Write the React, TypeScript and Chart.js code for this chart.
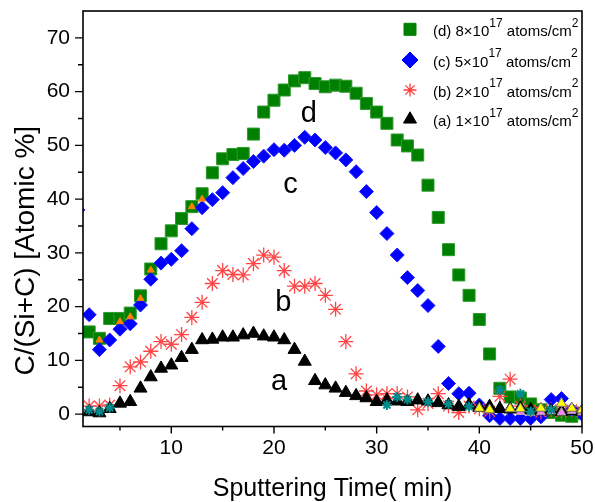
import { useEffect, useRef } from 'react';
import { Chart, registerables } from 'chart.js';

Chart.register(...registerables);

// ---------- data ----------
const times = [2, 3, 4, 5, 6, 7, 8, 9, 10, 11, 12, 13, 14, 15, 16, 17, 18, 19, 20, 21, 22, 23, 24, 25, 26,
  27, 28, 29, 30, 31, 32, 33, 34, 35, 36, 37, 38, 39, 40, 41, 42, 43, 44, 45, 46, 47, 48, 49, 50];

const seriesD = [15.3, 14.1, 17.8, 17.8, 18.8, 22.0, 27.0, 31.7, 34.1, 36.4, 38.6, 41.0, 44.9, 47.5, 48.3, 48.5,
  52.1, 56.2, 58.4, 60.3, 62.0, 62.6, 61.5, 60.9, 61.2, 61.0, 59.7, 57.8, 56.2, 54.1, 51.0, 49.9, 48.2, 42.6,
  36.6, 30.6, 25.9, 22.1, 17.6, 11.2, 4.8, 3.2, 3.0, 1.9, 0.8, 0.3, -0.2, -0.4, 0.2];

const seriesC = [18.5, 12.0, 13.8, 15.8, 16.8, 20.3, 25.1, 28.1, 28.8, 30.4, 34.5, 38.4, 39.9, 41.2, 44.0, 45.7,
  47.0, 48.0, 49.2, 49.1, 50.0, 51.5, 51.0, 49.6, 48.6, 47.3, 45.1, 41.4, 37.5, 33.6, 29.6, 25.4, 23.0, 20.2,
  12.6, 5.7, 3.8, 3.9, 1.7, -0.3, -0.8, -0.8, -0.8, -0.8, -0.5, 2.7, 2.9, 0.8, 0.0];

const seriesB = [1.5, 1.5, 1.7, 5.3, 8.8, 9.7, 11.7, 13.5, 13.0, 14.8, 18.0, 20.8, 24.3, 26.7, 26.0, 25.9, 28.0,
  29.6, 29.2, 26.7, 23.8, 23.8, 24.3, 22.1, 19.5, 13.5, 7.5, 4.3, 3.6, 3.8, 3.8, 3.2, 0.8, 2.0, 3.8, 1.5, 0.3,
  1.5, 1.0, 0.5, 3.3, 6.5, 1.5, 0.8, 0.4, 0.8, 0.5, 0.8, 0.5];

const seriesA = [0.4, 0.2, 1.0, 2.0, 2.3, 4.8, 6.9, 8.5, 9.1, 10.5, 12.0, 13.8, 13.9, 14.3, 14.3, 14.7, 15.0,
  14.5, 14.3, 13.8, 12.0, 9.8, 6.2, 5.4, 4.8, 4.0, 3.4, 3.0, 2.3, 2.6, 2.4, 2.3, 2.6, 2.4, 2.1, 1.7, 1.4, 1.7,
  1.2, 1.4, 1.0, 0.9, 1.1, 0.8, 0.6, 0.6, 0.5, 0.6, 0.5];

// clipped blue point at the left edge
const edgeCTimes = [0.9];
const edgeCValues = [38.0];

// small overlapping markers from other runs
const tealTimes = [2, 3, 4, 31, 32, 33, 35, 37, 39, 42, 44, 45, 47];
const tealValues = [0.8, 0.5, 1.2, 1.7, 3.2, 2.7, 2.3, 1.9, 1.4, 4.5, 3.8, 0.5, 0.8];
const yellowTimes = [40, 41, 43, 44, 46, 48, 49, 50];
const yellowValues = [1.1, 0.8, 1.0, 1.0, 1.1, 2.0, 1.1, 0.8];
const orangeTimes = [3, 5, 6, 7, 8, 12, 13];
const orangeValues = [13.8, 17.2, 18.1, 21.5, 26.8, 38.6, 40.0];
const pinkTimes = [44, 45, 46, 47, 48, 49, 50];
const pinkValues = [0.4, 0.2, 0.4, 0.5, 0.3, 0.6, 0.3];

const xTickValues = [10, 20, 30, 40, 50];
const xMarkValues = [5, 10, 15, 20, 25, 30, 35, 40, 45, 50];
const yTickValues = [0, 10, 20, 30, 40, 50, 60, 70];
const yMarkValues = [0, 5, 10, 15, 20, 25, 30, 35, 40, 45, 50, 55, 60, 65, 70];

const legendLabels = ['(d) 8×10', '(c) 5×10', '(b) 2×10', '(a) 1×10'];
const legendExponent = '17';
const legendUnit = ' atoms/cm';
const legendUnitExponent = '2';

const curveLetters = ['d', 'c', 'b', 'a'];
const letterX = [23.4, 21.6, 20.9, 20.5];
const letterY = [54.3, 41.1, 19.2, 4.5];

const xTitle = 'Sputtering Time( min)';
const yTitle = 'C/(Si+C) [Atomic %]';
const yTitleCenterValue = 30.4;

const FONT = "'Liberation Sans', Arial, sans-serif";

const pts = (xs: number[], ys: number[]) => xs.map((x, i) => ({ x, y: ys[i] }));

type Style = 'rect' | 'rectRot' | 'star' | 'triangle';
function drawMarker(ctx: CanvasRenderingContext2D, style: Style, x: number, y: number, r: number, fill: string, stroke: string, lw: number) {
  ctx.beginPath();
  if (style === 'rect') {
    const s = r;
    ctx.rect(x - s, y - s, 2 * s, 2 * s);
  } else if (style === 'rectRot') {
    ctx.moveTo(x - r, y); ctx.lineTo(x, y - r); ctx.lineTo(x + r, y); ctx.lineTo(x, y + r); ctx.closePath();
  } else if (style === 'triangle') {
    const w = r * Math.sin(Math.PI / 3);
    ctx.moveTo(x, y - r); ctx.lineTo(x + w, y + r / 2); ctx.lineTo(x - w, y + r / 2); ctx.closePath();
  } else {
    for (let k = 0; k < 4; k++) {
      const a = (k * Math.PI) / 4;
      ctx.moveTo(x - Math.cos(a) * r, y - Math.sin(a) * r);
      ctx.lineTo(x + Math.cos(a) * r, y + Math.sin(a) * r);
    }
  }
  if (style !== 'star') { ctx.fillStyle = fill; ctx.fill(); }
  ctx.strokeStyle = stroke; ctx.lineWidth = lw; ctx.stroke();
}

const legendStyles: { style: Style; fill: string; stroke: string; r: number }[] = [
  { style: 'rect', fill: '#008000', stroke: '#008000', r: 6 },
  { style: 'rectRot', fill: '#0000ff', stroke: '#0000ff', r: 8 },
  { style: 'star', fill: '#ff3b3b', stroke: '#ff3b3b', r: 6.5 },
  { style: 'triangle', fill: '#000', stroke: '#000', r: 7.5 },
];

const decorPlugin = {
  id: 'decor',
  afterDraw(chart: any) {
    const { ctx, chartArea: a, scales } = chart;
    const xs = scales.x, ys = scales.y;
    ctx.save();
    // frame
    ctx.strokeStyle = '#000';
    ctx.lineWidth = 1.6;
    ctx.strokeRect(a.left, a.top, a.right - a.left, a.bottom - a.top);
    // tick marks
    ctx.beginPath();
    ctx.lineWidth = 1.4;
    xMarkValues.forEach((v) => {
      const px = xs.getPixelForValue(v);
      const len = v % 10 === 0 ? 7 : 4;
      ctx.moveTo(px, a.bottom); ctx.lineTo(px, a.bottom + len);
    });
    yMarkValues.forEach((v) => {
      const py = ys.getPixelForValue(v);
      const len = v % 10 === 0 ? 8 : 5;
      ctx.moveTo(a.left, py); ctx.lineTo(a.left - len, py);
    });
    ctx.stroke();

    // y axis title (Origin-style, sits below the axis centre)
    ctx.save();
    ctx.translate(34, ys.getPixelForValue(yTitleCenterValue));
    ctx.rotate(-Math.PI / 2);
    ctx.font = `28px ${FONT}`;
    ctx.fillStyle = '#000';
    ctx.textAlign = 'center';
    ctx.textBaseline = 'alphabetic';
    ctx.fillText(yTitle, 0, 0);
    ctx.restore();

    // legend
    const rowsY = [18.3, 49, 79, 108.3];
    const mx = a.right - 172;
    const tx = a.right - 149;
    legendLabels.forEach((lab, i) => {
      const y = a.top + rowsY[i];
      const st = legendStyles[i];
      drawMarker(ctx, st.style, mx, y, st.r, st.fill, st.stroke, st.style === 'star' ? 1.3 : 1);
      const base = y + 6.7;
      ctx.fillStyle = '#000';
      ctx.textAlign = 'left';
      ctx.textBaseline = 'alphabetic';
      let cx = tx;
      ctx.font = `15px ${FONT}`;
      ctx.fillText(lab, cx, base); cx += ctx.measureText(lab).width;
      ctx.font = `12px ${FONT}`;
      ctx.fillText(legendExponent, cx, base - 9.3); cx += ctx.measureText(legendExponent).width;
      ctx.font = `15px ${FONT}`;
      ctx.fillText(legendUnit, cx, base); cx += ctx.measureText(legendUnit).width;
      ctx.font = `12px ${FONT}`;
      ctx.fillText(legendUnitExponent, cx, base - 9.3);
    });

    // curve letters
    ctx.font = `29px ${FONT}`;
    ctx.textAlign = 'center';
    ctx.textBaseline = 'alphabetic';
    ctx.fillStyle = '#000';
    curveLetters.forEach((t, i) => {
      ctx.fillText(t, xs.getPixelForValue(letterX[i]), ys.getPixelForValue(letterY[i]));
    });
    ctx.restore();
  },
};

export default function App() {
  const ref = useRef<HTMLCanvasElement | null>(null);
  useEffect(() => {
    if (!ref.current) return;
    Chart.defaults.font.family = FONT;
    const common = { showLine: false, clip: 0, borderWidth: 1 };
    const chart = new Chart(ref.current, {
      type: 'scatter',
      data: {
        datasets: [
          { ...common, label: 'teal', data: pts(tealTimes, tealValues), pointStyle: 'star', pointRadius: 5, borderColor: '#008b8b', borderWidth: 2, backgroundColor: '#00c0c0', order: 0 },
          { ...common, label: 'yellow', data: pts(yellowTimes, yellowValues), pointStyle: 'triangle', pointRadius: 6, backgroundColor: '#ffff00', borderColor: '#707070', order: 1 },
          { ...common, label: 'pink', data: pts(pinkTimes, pinkValues), pointStyle: 'triangle', pointRadius: 5, backgroundColor: '#ff80ff', borderColor: '#a0a0a0', order: 1.5 },
          { ...common, label: 'orange', data: pts(orangeTimes, orangeValues), pointStyle: 'triangle', pointRadius: 4, backgroundColor: '#ff8000', borderColor: '#ff8000', order: 2 },
          { ...common, label: '(a)', data: pts(times, seriesA), pointStyle: 'triangle', pointRadius: 7.5, backgroundColor: '#000', borderColor: '#000', order: 3 },
          { ...common, label: '(b)', data: pts(times, seriesB), pointStyle: 'star', pointRadius: 7.5, borderColor: '#ff4545', backgroundColor: '#ff4545', borderWidth: 1.3, order: 4 },
          { ...common, label: '(c)', data: pts(times, seriesC).concat(pts(edgeCTimes, edgeCValues)), pointStyle: 'rectRot', pointRadius: 7, backgroundColor: '#0000ff', borderColor: '#1a1aff', order: 5 },
          { ...common, label: '(d)', data: pts(times, seriesD), pointStyle: 'rect', pointRadius: 8.5, backgroundColor: '#008000', borderColor: '#2e9a2e', order: 6 },
        ],
      },
      options: {
        responsive: false,
        animation: false,
        events: [],
        layout: { padding: { top: 11, right: 13, left: 0, bottom: 0 } },
        plugins: { legend: { display: false }, tooltip: { enabled: false } },
        scales: {
          x: {
            type: 'linear',
            min: 1.4,
            max: 50,
            grid: { display: false, drawTicks: false },
            border: { display: false },
            afterBuildTicks: (s: any) => { s.ticks = xTickValues.map((v) => ({ value: v })); },
            afterFit: (s: any) => { s.height = 75.5; s.paddingLeft = 0; s.paddingRight = 0; },
            ticks: { color: '#000', font: { size: 21, family: FONT }, padding: 9, autoSkip: false, maxRotation: 0 },
            title: { display: true, text: xTitle, color: '#000', font: { size: 25, family: FONT }, padding: { top: 0, bottom: -2 } },
          },
          y: {
            type: 'linear',
            min: -2.3,
            max: 75,
            grid: { display: false, drawTicks: false },
            border: { display: false },
            afterBuildTicks: (s: any) => { s.ticks = yTickValues.map((v) => ({ value: v })); },
            afterFit: (s: any) => { s.width = 83; s.paddingTop = 0; s.paddingBottom = 0; },
            ticks: { color: '#000', font: { size: 21, family: FONT }, padding: 13, autoSkip: false },
            title: { display: false },
          },
        },
      },
      plugins: [decorPlugin],
    } as any);
    return () => chart.destroy();
  }, []);
  return (
    <div style={{ position: 'absolute', left: 0, top: 0, width: 595, height: 502, background: '#fff' }}>
      <canvas ref={ref} width={595} height={502} style={{ display: 'block', width: 595, height: 502 }} />
    </div>
  );
}
